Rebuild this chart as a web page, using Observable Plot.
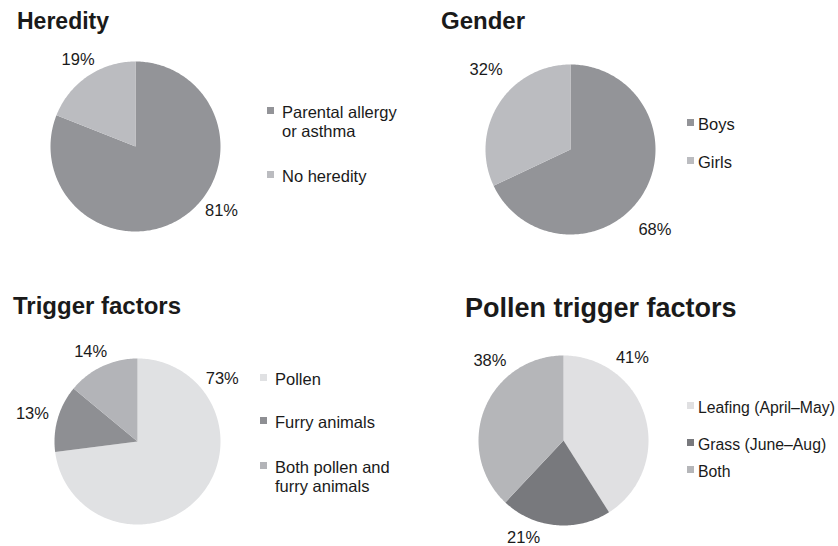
<!DOCTYPE html>
<html>
<head>
<meta charset="utf-8">
<script src="https://cdn.jsdelivr.net/npm/d3@7"></script>
<script src="https://cdn.jsdelivr.net/npm/@observablehq/plot@0.6"></script>
<style>
  html, body { margin: 0; padding: 0; background: #ffffff; }
  #root { position: relative; width: 838px; height: 546px; overflow: hidden;
          font-family: "Liberation Sans", Arial, Helvetica, sans-serif; color: #1a1a1a; }
  .panel { position: absolute; width: 419px; height: 273px; }
  .panel svg { position: absolute; left: 0; top: 0; }
  .title { position: absolute; font-weight: bold; white-space: nowrap; line-height: 1; color: #1a1a1a; }
  .item { position: absolute; line-height: 19px; color: #1a1a1a; }
  .sw { position: absolute; width: 7px; height: 7px; }
</style>
</head>
<body>
<div id="root"></div>
<script>
// ---------- data ----------
const titles = ["Heredity", "Gender", "Trigger factors", "Pollen trigger factors"];

const heredityCategories = ["Parental allergy or asthma", "No heredity"];
const heredityValues = [81, 19];

const genderCategories = ["Boys", "Girls"];
const genderValues = [68, 32];

const triggerCategories = ["Pollen", "Furry animals", "Both pollen and furry animals"];
const triggerValues = [73, 13, 14];

const pollenCategories = ["Leafing (April\u2013May)", "Grass (June\u2013Aug)", "Both"];
const pollenValues = [41, 21, 38];

// ---------- styles ----------
const heredityColors = ["#939498", "#bbbcc0"];
const genderColors = ["#939498", "#bbbcc0"];
const triggerColors = ["#e0e1e3", "#8e8f93", "#b3b4b8"];
const pollenColors = ["#e0e0e2", "#78797d", "#b5b6b9"];

// ---------- layout (panel-relative pixels) ----------
// labelAngles: direction (degrees clockwise from 12 o'clock) in which the
// reference places each slice's percentage label outside the pie.
const layouts = [
  {left: 0,   top: 0,   cx: 135, cy: 146, r: 85, titleX: 17, titleBase: 30, titleSize: 23,
   swX: 267, textX: 282, legendWidth: 125, legendSize: 16.5, itemBases: [118, 182],
   labelGap: 10, labelAngles: [129.5, 329]},
  {left: 419, top: 0,   cx: 151, cy: 149, r: 85, titleX: 22, titleBase: 30, titleSize: 24,
   swX: 268, textX: 279, legendWidth: 140, legendSize: 16.5, itemBases: [130, 168],
   labelGap: 20, labelAngles: [136, 316]},
  {left: 0,   top: 273, cx: 137, cy: 168, r: 83, titleX: 13, titleBase: 42, titleSize: 24,
   swX: 260, textX: 275, legendWidth: 125, legendSize: 16.5, itemBases: [112, 155, 200],
   labelGap: 10, labelAngles: [50.7, 286.3, 334.7]},
  {left: 419, top: 273, cx: 144, cy: 167, r: 85, titleX: 46, titleBase: 45, titleSize: 27,
   swX: 268, textX: 279, legendWidth: 160, legendSize: 15.8, itemBases: [140, 177, 204],
   labelGap: 13, labelAngles: [37, 200.4, 320]}
];
const labelW = 33, labelH = 12;

const series = [
  [heredityCategories, heredityValues, heredityColors],
  [genderCategories, genderValues, genderColors],
  [triggerCategories, triggerValues, triggerColors],
  [pollenCategories, pollenValues, pollenColors]
];

const root = document.getElementById("root");

series.forEach(([cats, vals, cols], i) => {
  const L = layouts[i];
  const total = d3.sum(vals);
  const slicePts = [];
  const labels = [];
  let acc = 0;
  cats.forEach((c, j) => {
    const a0 = acc / total * 2 * Math.PI;
    acc += vals[j];
    const a1 = acc / total * 2 * Math.PI;
    slicePts.push({cat: c, x: 0, y: 0});
    const n = Math.max(2, Math.ceil((a1 - a0) / (Math.PI / 180)));
    for (let k = 0; k <= n; k++) {
      const a = a0 + (a1 - a0) * k / n;
      slicePts.push({cat: c, x: Math.sin(a), y: Math.cos(a)});
    }
    const am = (L.labelAngles ? L.labelAngles[j] * Math.PI / 180 : (a0 + a1) / 2);
    const s = Math.sin(am), co = Math.cos(am);
    labels.push({
      cat: c, value: vals[j],
      x: ((L.r + L.labelGap) * s + labelW / 2 * s) / L.r,
      y: ((L.r + L.labelGap) * co + labelH / 2 * co) / L.r
    });
  });

  const panel = document.createElement("div");
  panel.className = "panel";
  panel.style.left = L.left + "px";
  panel.style.top = L.top + "px";
  root.appendChild(panel);

  const chart = Plot.plot({
    width: 419, height: 273, margin: 0,
    style: {background: "transparent", fontFamily: "'Liberation Sans', Arial, sans-serif", overflow: "visible"},
    x: {domain: [-1, 1], range: [L.cx - L.r, L.cx + L.r], axis: null},
    y: {domain: [-1, 1], range: [L.cy + L.r, L.cy - L.r], axis: null},
    color: {domain: cats, range: cols},
    marks: [
      Plot.line(slicePts, {x: "x", y: "y", z: "cat", fill: "cat", stroke: "none", curve: "linear-closed"}),
      Plot.text(labels, {x: "x", y: "y", text: d => d.value + "%", fontSize: 16.5, fill: "#1a1a1a"})
    ]
  });
  panel.appendChild(chart);

  const t = document.createElement("div");
  t.className = "title";
  t.textContent = titles[i];
  t.style.fontSize = L.titleSize + "px";
  t.style.left = L.titleX + "px";
  t.style.top = (L.titleBase - L.titleSize * 0.86) + "px";
  panel.appendChild(t);

  cats.forEach((c, j) => {
    const base = L.itemBases[j];
    const sw = document.createElement("div");
    sw.className = "sw";
    sw.style.background = cols[j];
    sw.style.left = L.swX + "px";
    sw.style.top = (base - 11) + "px";
    panel.appendChild(sw);
    const it = document.createElement("div");
    it.className = "item";
    it.textContent = c;
    it.style.fontSize = L.legendSize + "px";
    it.style.left = L.textX + "px";
    it.style.top = (base - 15) + "px";
    it.style.width = L.legendWidth + "px";
    panel.appendChild(it);
  });
});
</script>
</body>
</html>
